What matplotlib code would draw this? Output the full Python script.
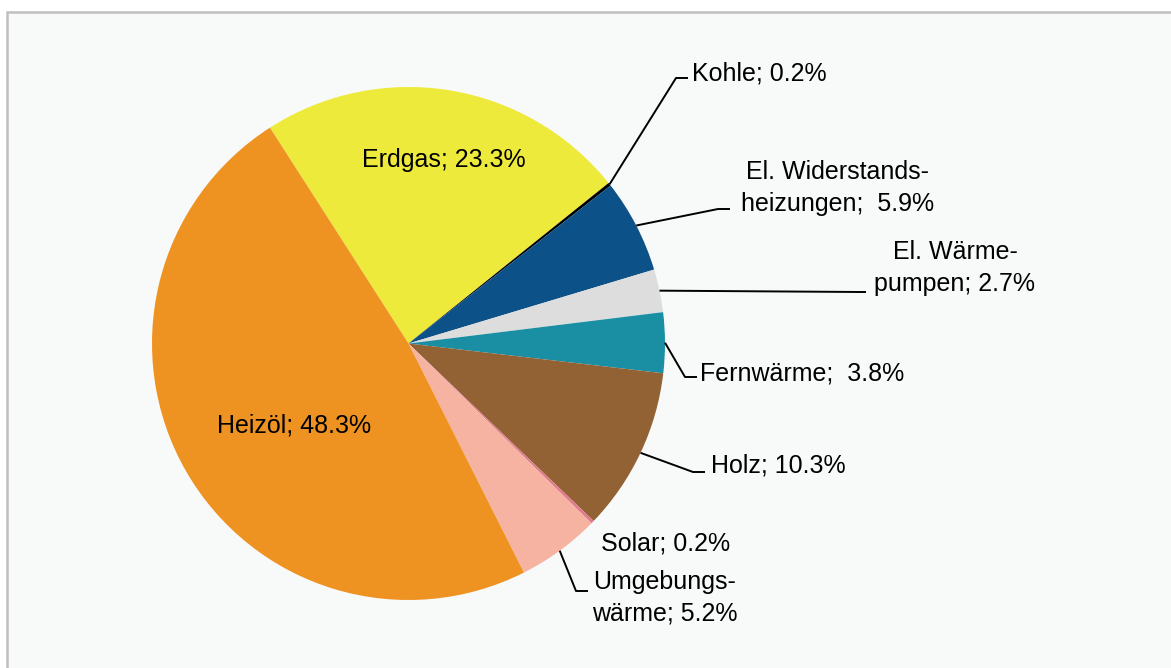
import numpy as np
import matplotlib
matplotlib.use('Agg')
import matplotlib.pyplot as plt
from matplotlib.patches import Rectangle

plt.rcParams['font.family'] = ['Liberation Sans', 'DejaVu Sans']

# Data
categories = ['Erdgas', 'Kohle', 'El. Widerstandsheizungen', 'El. Wärmepumpen',
              'Fernwärme', 'Holz', 'Solar', 'Umgebungswärme', 'Heizöl']
shares = [23.3, 0.2, 5.9, 2.7, 3.8, 10.3, 0.2, 5.2, 48.3]
label_texts = ['Erdgas; 23.3%', 'Kohle; 0.2%', 'El. Widerstands-\nheizungen;  5.9%',
               'El. Wärme-\npumpen; 2.7%', 'Fernwärme;  3.8%', 'Holz; 10.3%',
               'Solar; 0.2%', 'Umgebungs-\nwärme; 5.2%', 'Heizöl; 48.3%']
colors = ['#EEEA3C', '#000000', '#0C5289', '#DDDDDD', '#1A8FA3',
          '#936234', '#E07B8C', '#F6B3A1', '#EE9322']

W, H = 1171, 668
fig = plt.figure(figsize=(W / 100, H / 100), dpi=100)
fig.patch.set_facecolor('white')
ax = fig.add_axes([0, 0, 1, 1])


def py(y):
    # pixel row (from top) -> data y
    return H - y


# chart area frame
ax.add_patch(Rectangle((6.5, py(H + 20)), W + 20, H + 20 - 11.5,
                       facecolor='#F8F9F9', edgecolor='#BFBFBF', lw=1.8, zorder=0))

cx, cy, r = 408.5, py(343.5), 256.5
wedges, _ = ax.pie(shares, colors=colors, startangle=122.7, counterclock=False,
                   center=(cx, cy), radius=r, frame=True,
                   wedgeprops=dict(linewidth=0))
ax.set_xlim(0, W)
ax.set_ylim(0, H)
ax.set_aspect('equal')
ax.axis('off')

# label layout: (text x, text y, ha, elbow point or None)
layout = {
    'Erdgas': (444, 160, 'center', None),
    'Kohle': (692, 73, 'left', (676, 78, 688)),
    'El. Widerstandsheizungen': (838, 188, 'center', (718, 209, 730)),
    'El. Wärmepumpen': (955, 268, 'center', (860, 292, 866)),
    'Fernwärme': (700, 373, 'left', (685, 377, 697)),
    'Holz': (711, 465, 'left', (693, 472, 705)),
    'Solar': (601, 543, 'left', None),
    'Umgebungswärme': (665, 598, 'center', (576, 591, 588)),
    'Heizöl': (294, 425, 'center', None),
}

for w, cat, txt in zip(wedges, categories, label_texts):
    tx, ty, ha, elbow = layout[cat]
    ax.text(tx, py(ty), txt, ha=ha, va='center', multialignment='center',
            fontsize=18, color='black', linespacing=1.4, zorder=5)
    if elbow is not None:
        mid = np.deg2rad((w.theta1 + w.theta2) / 2)
        sx, sy = cx + r * np.cos(mid), cy + r * np.sin(mid)
        ex, ey, hx = elbow
        ax.plot([sx, ex, hx], [sy, py(ey), py(ey)], color='black', lw=1.4,
                solid_capstyle='butt', zorder=4)

fig.savefig('out.png', dpi=100, facecolor='white')
